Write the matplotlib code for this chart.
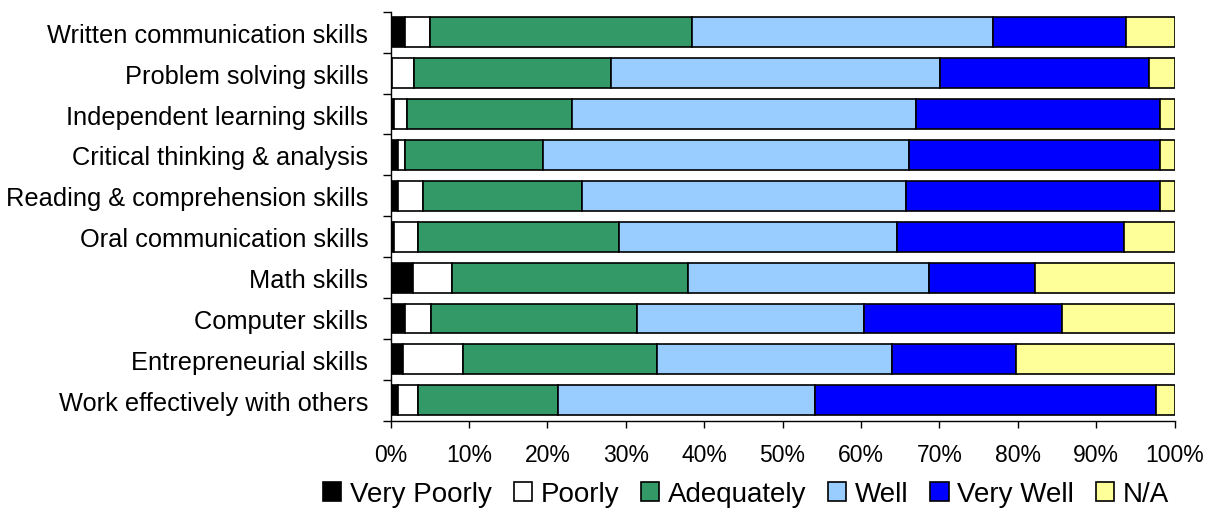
import numpy as np
import matplotlib.pyplot as plt

plt.rcParams['font.family'] = ['Liberation Sans', 'DejaVu Sans']

skills = ['Written communication skills', 'Problem solving skills',
          'Independent learning skills', 'Critical thinking & analysis',
          'Reading & comprehension skills', 'Oral communication skills',
          'Math skills', 'Computer skills', 'Entrepreneurial skills',
          'Work effectively with others']

ratings = ['Very Poorly', 'Poorly', 'Adequately', 'Well', 'Very Well', 'N/A']
colors = ['#000000', '#FFFFFF', '#339966', '#99CCFF', '#0000FF', '#FFFF99']

# percent of responses per skill, one list per rating
very_poorly = [1.8, 0.2, 0.45, 1.0, 0.9, 0.45, 2.9, 1.8, 1.6, 1.0]
poorly      = [3.2, 2.8, 1.65, 0.9, 3.2, 3.05, 4.9, 3.4, 7.6, 2.5]
adequately  = [33.5, 25.1, 21.1, 17.6, 20.3, 25.6, 30.2, 26.2, 24.8, 17.8]
well        = [38.3, 42.0, 43.8, 46.6, 41.4, 35.5, 30.7, 29.0, 29.9, 32.9]
very_well   = [17.0, 26.6, 31.2, 32.1, 32.4, 29.0, 13.5, 25.3, 15.9, 43.4]
na          = [6.2, 3.3, 1.8, 1.8, 1.8, 6.4, 17.8, 14.3, 20.2, 2.4]

data = np.array([very_poorly, poorly, adequately, well, very_well, na])

fig = plt.figure(figsize=(12.08, 5.1), dpi=100)
ax = fig.add_axes([0.3233, 0.173, 0.649, 0.802])

y = np.arange(len(skills))[::-1]
left = np.zeros(len(skills))
for vals, name, c in zip(data, ratings, colors):
    ax.barh(y, vals, left=left, height=0.73, color=c, edgecolor='black',
            linewidth=1.2, label=name)
    left += vals

ax.set_xlim(0, 100)
ax.set_ylim(-0.5, len(skills) - 0.5)
ax.set_xticks(np.arange(0, 101, 10))
ax.set_xticklabels([f'{v}%' for v in range(0, 101, 10)])
ax.set_yticks(y)
ax.set_yticklabels(skills)
ax.set_yticks(np.arange(-0.5, len(skills), 1), minor=True)
ax.tick_params(axis='y', which='major', length=0, pad=16, labelsize=18.3)
ax.tick_params(axis='y', which='minor', length=6, width=1)
ax.tick_params(axis='x', length=5, width=1, labelsize=16.5, pad=11)
for s in ['top', 'right']:
    ax.spines[s].set_visible(False)
ax.spines['left'].set_linewidth(1)
ax.spines['bottom'].set_linewidth(1)

fig.legend(loc='center', bbox_to_anchor=(746 / 1208, 1 - 495 / 510), ncol=6,
           frameon=False, fontsize=20, handlelength=0.65, handleheight=0.65,
           handletextpad=0.3, columnspacing=0.8, borderpad=0, borderaxespad=0)

fig.savefig('out.png', dpi=100)
